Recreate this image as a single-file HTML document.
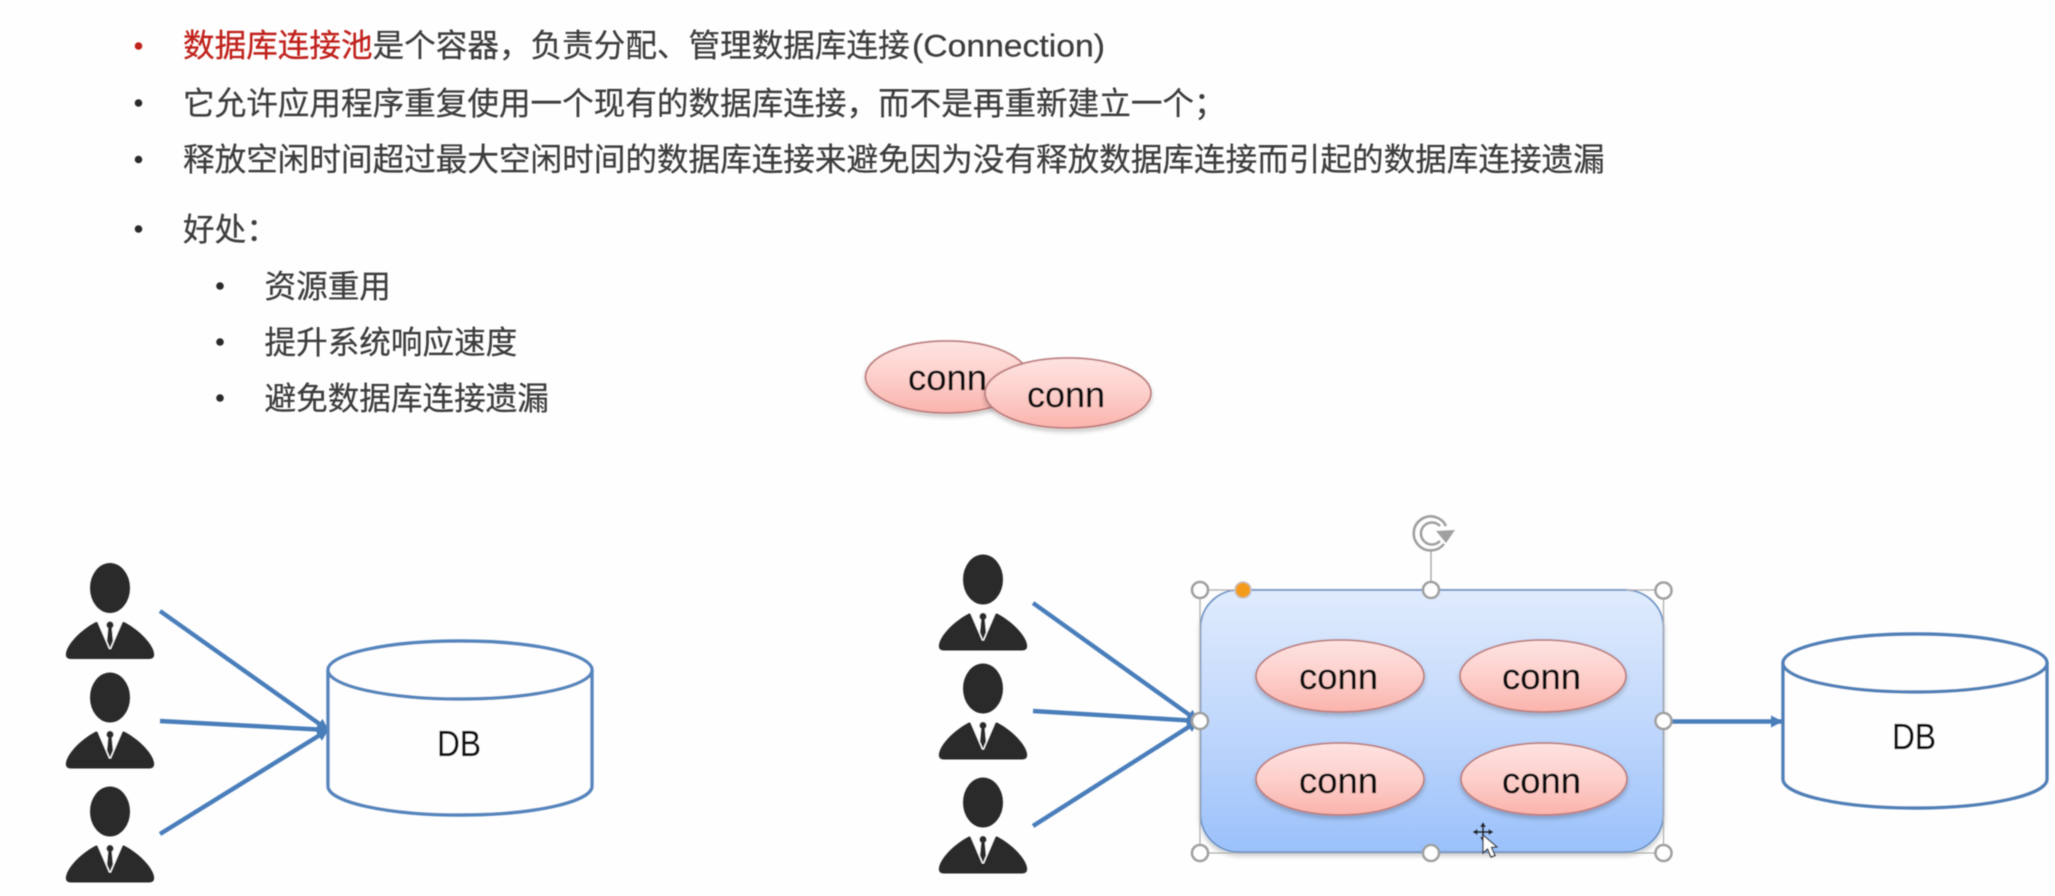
<!DOCTYPE html>
<html lang="zh-CN">
<head>
<meta charset="utf-8">
<title>数据库连接池</title>
<style>
html,body{margin:0;padding:0;background:#fefefe;}
svg{display:block;}
.t{font-family:"Liberation Sans","Noto Sans CJK SC",sans-serif;font-size:31.6px;fill:#3c3c3c;stroke:#3c3c3c;stroke-width:.25px;}
.c{font-family:"Liberation Sans",sans-serif;font-size:36px;fill:#111;stroke:#111;stroke-width:.3px;}
</style>
</head>
<body>
<svg width="2055" height="896" viewBox="0 0 2055 896" xmlns="http://www.w3.org/2000/svg">
<defs>
  <filter id="b" x="-5%" y="-5%" width="110%" height="110%"><feGaussianBlur stdDeviation="0.6"/></filter>
  <filter id="s" x="-10%" y="-10%" width="120%" height="125%"><feDropShadow dx="0" dy="3" stdDeviation="2.5" flood-color="#000" flood-opacity=".22"/></filter>
  <linearGradient id="pink" x1="0" y1="0" x2="0" y2="1">
    <stop offset="0" stop-color="#fde3e1"/><stop offset=".5" stop-color="#fdcfcb"/><stop offset="1" stop-color="#fbb3ac"/>
  </linearGradient>
  <linearGradient id="blue" x1="0" y1="0" x2="0" y2="1">
    <stop offset="0" stop-color="#e0ebfd"/><stop offset=".5" stop-color="#c1d8fc"/><stop offset="1" stop-color="#9bc1fb"/>
  </linearGradient>
  <marker id="ah" markerUnits="userSpaceOnUse" markerWidth="14" markerHeight="14" refX="11" refY="6" orient="auto">
    <path d="M0,0 L12,6 L0,12 Z" fill="#4a7ebb"/>
  </marker>
  <g id="person">
    <ellipse cx="0" cy="0" rx="20" ry="25" fill="#2b2b2b"/>
    <path d="M-14,34 C-26,40 -42,54 -44,65 Q-45,71 -39,71 L39,71 Q45,71 44,65 C42,54 26,40 14,34 Z" fill="#2b2b2b"/>
    <path d="M-13,33 L13,33 L1,61 L-1,61 Z" fill="#fefefe"/>
    <ellipse cx="0" cy="37" rx="3.6" ry="3.6" fill="#2b2b2b"/>
    <path d="M-1.8,40 L1.8,40 L3,53 L0,60 L-3,53 Z" fill="#2b2b2b"/>
  </g>
</defs>

<rect width="2055" height="896" fill="#fefefe"/>

<g filter="url(#b)">
  <!-- Bullets -->
  <circle cx="138.5" cy="46" r="3.8" fill="#c0201a"/>
  <circle cx="138.5" cy="103" r="3.8" fill="#2a2a2a"/>
  <circle cx="138.5" cy="159.5" r="3.8" fill="#2a2a2a"/>
  <circle cx="138.5" cy="229" r="3.8" fill="#2a2a2a"/>
  <circle cx="220" cy="286" r="3.8" fill="#2a2a2a"/>
  <circle cx="220" cy="342" r="3.8" fill="#2a2a2a"/>
  <circle cx="220" cy="398" r="3.8" fill="#2a2a2a"/>

  <!-- Text -->
  <text class="t" x="183" y="56.5"><tspan fill="#c0201a" stroke="#c0201a">数据库连接池</tspan>是个容器，负责分配、管理数据库连接</text>
  <text class="t" x="912" y="56.5" textLength="193" lengthAdjust="spacingAndGlyphs">(Connection)</text>
  <text class="t" x="183" y="114.5">它允许应用程序重复使用一个现有的数据库连接，而不是再重新建立一个；</text>
  <text class="t" x="183" y="170.5">释放空闲时间超过最大空闲时间的数据库连接来避免因为没有释放数据库连接而引起的数据库连接遗漏</text>
  <text class="t" x="183" y="240.5">好处：</text>
  <text class="t" x="264.5" y="297.5">资源重用</text>
  <text class="t" x="264.5" y="353.5">提升系统响应速度</text>
  <text class="t" x="264.5" y="409.5">避免数据库连接遗漏</text>

  <!-- Floating ellipses -->
  <ellipse cx="947" cy="377" rx="81.5" ry="36" fill="url(#pink)" stroke="#bd8080" stroke-width="1.8" filter="url(#s)"/>
  <text class="c" x="908" y="390" textLength="79" lengthAdjust="spacingAndGlyphs">conn</text>
  <ellipse cx="1068" cy="393" rx="83" ry="35" fill="url(#pink)" stroke="#bd8080" stroke-width="1.8" filter="url(#s)"/>
  <text class="c" x="1027" y="407" textLength="78" lengthAdjust="spacingAndGlyphs">conn</text>

  <!-- Left persons -->
  <use href="#person" x="110" y="588"/>
  <use href="#person" x="110" y="697.5"/>
  <use href="#person" x="110" y="811.5"/>

  <!-- Left arrows -->
  <g stroke="#4a7ebb" stroke-width="4.4" fill="none">
    <line x1="160" y1="611" x2="328" y2="730" marker-end="url(#ah)"/>
    <line x1="160" y1="721" x2="328" y2="730" marker-end="url(#ah)"/>
    <line x1="160" y1="834" x2="328" y2="730" marker-end="url(#ah)"/>
  </g>

  <!-- Left DB -->
  <g fill="#fefefe" stroke="#5585bd" stroke-width="3.4">
    <path d="M328,670 L328,786 C328,802 387,815 460,815 C533,815 592,802 592,786 L592,670"/>
    <ellipse cx="460" cy="670" rx="132" ry="29"/>
  </g>
  <text class="c" x="437" y="756" textLength="44" lengthAdjust="spacingAndGlyphs">DB</text>

  <!-- Right persons -->
  <use href="#person" x="983" y="579.5"/>
  <use href="#person" x="983" y="688.5"/>
  <use href="#person" x="983" y="802.5"/>

  <!-- Right arrows -->
  <g stroke="#4a7ebb" stroke-width="4.4" fill="none">
    <line x1="1033" y1="603" x2="1198" y2="721" marker-end="url(#ah)"/>
    <line x1="1033" y1="711" x2="1198" y2="721" marker-end="url(#ah)"/>
    <line x1="1033" y1="826" x2="1198" y2="721" marker-end="url(#ah)"/>
    <line x1="1668" y1="721.5" x2="1782" y2="721.5" marker-end="url(#ah)"/>
  </g>

  <!-- Pool box -->
  <rect x="1200.5" y="590" width="463" height="262" rx="38" ry="38" fill="url(#blue)" stroke="#6f94c6" stroke-width="1.8" filter="url(#s)"/>
  <rect x="1200" y="590" width="463.5" height="263" fill="none" stroke="#b0b0b0" stroke-width="1.3"/>
  <rect x="1238" y="589" width="388" height="2" fill="#7d9cc8"/>
  <rect x="1238" y="851" width="388" height="2" fill="#7d9cc8"/>

  <!-- Pool ellipses -->
  <g fill="url(#pink)" stroke="#bd8080" stroke-width="1.8">
    <ellipse cx="1340" cy="676" rx="84" ry="36" filter="url(#s)"/>
    <ellipse cx="1543" cy="676" rx="83" ry="36" filter="url(#s)"/>
    <ellipse cx="1340" cy="779" rx="84" ry="36" filter="url(#s)"/>
    <ellipse cx="1544" cy="779" rx="83" ry="36" filter="url(#s)"/>
  </g>
  <text class="c" x="1299" y="689" textLength="79" lengthAdjust="spacingAndGlyphs">conn</text>
  <text class="c" x="1502" y="689" textLength="79" lengthAdjust="spacingAndGlyphs">conn</text>
  <text class="c" x="1299" y="793" textLength="79" lengthAdjust="spacingAndGlyphs">conn</text>
  <text class="c" x="1502" y="793" textLength="79" lengthAdjust="spacingAndGlyphs">conn</text>

  <!-- Right DB -->
  <g fill="#fefefe" stroke="#5080b8" stroke-width="3.4">
    <path d="M1783,663 L1783,779 C1783,795 1842,808 1915,808 C1988,808 2047,795 2047,779 L2047,663"/>
    <ellipse cx="1915" cy="663" rx="132" ry="29"/>
  </g>
  <text class="c" x="1892" y="749" textLength="44" lengthAdjust="spacingAndGlyphs">DB</text>

  <!-- Selection handles -->
  <line x1="1431" y1="590" x2="1431" y2="549" stroke="#a8a8a8" stroke-width="1.4"/>
  <g fill="#fefefe" stroke="#a0a0a0" stroke-width="2.6">
    <circle cx="1200" cy="590" r="8"/>
    <circle cx="1431" cy="590" r="8"/>
    <circle cx="1663.5" cy="590.5" r="8"/>
    <circle cx="1200" cy="721" r="8"/>
    <circle cx="1663.5" cy="721" r="8"/>
    <circle cx="1200" cy="853" r="8"/>
    <circle cx="1431" cy="853" r="8"/>
    <circle cx="1663.5" cy="853" r="8"/>
  </g>
  <circle cx="1243" cy="590" r="8" fill="#f39c1f" stroke="#c4c4c4" stroke-width="1.6"/>

  <!-- Rotate handle -->
  <g fill="none" stroke="#a0a0a0">
    <path d="M1446,526 A17,17 0 1 0 1444,544" stroke-width="2.6"/>
    <path d="M1440,526 A11,11 0 1 0 1440,541" stroke-width="2.6"/>
  </g>
  <path d="M1436,531 L1455,530 L1446,543 Z" fill="#a0a0a0"/>

  <!-- Cursor -->
  <g>
    <path d="M1483,822 L1486,827 L1480,827 Z M1483,842 L1486,837 L1480,837 Z M1472.5,832 L1477.5,829 L1477.5,835 Z M1493.5,832 L1488.5,829 L1488.5,835 Z" fill="#222"/>
    <path d="M1483,826 L1483,838 M1476,832 L1490,832" stroke="#222" stroke-width="1.8"/>
    <path d="M1483,835 L1483,853 L1487.5,849 L1491,857 L1495,855.5 L1491.5,847.5 L1497,847 Z" fill="#fefefe" stroke="#333" stroke-width="1.3"/>
  </g>
</g>
</svg>
</body>
</html>
